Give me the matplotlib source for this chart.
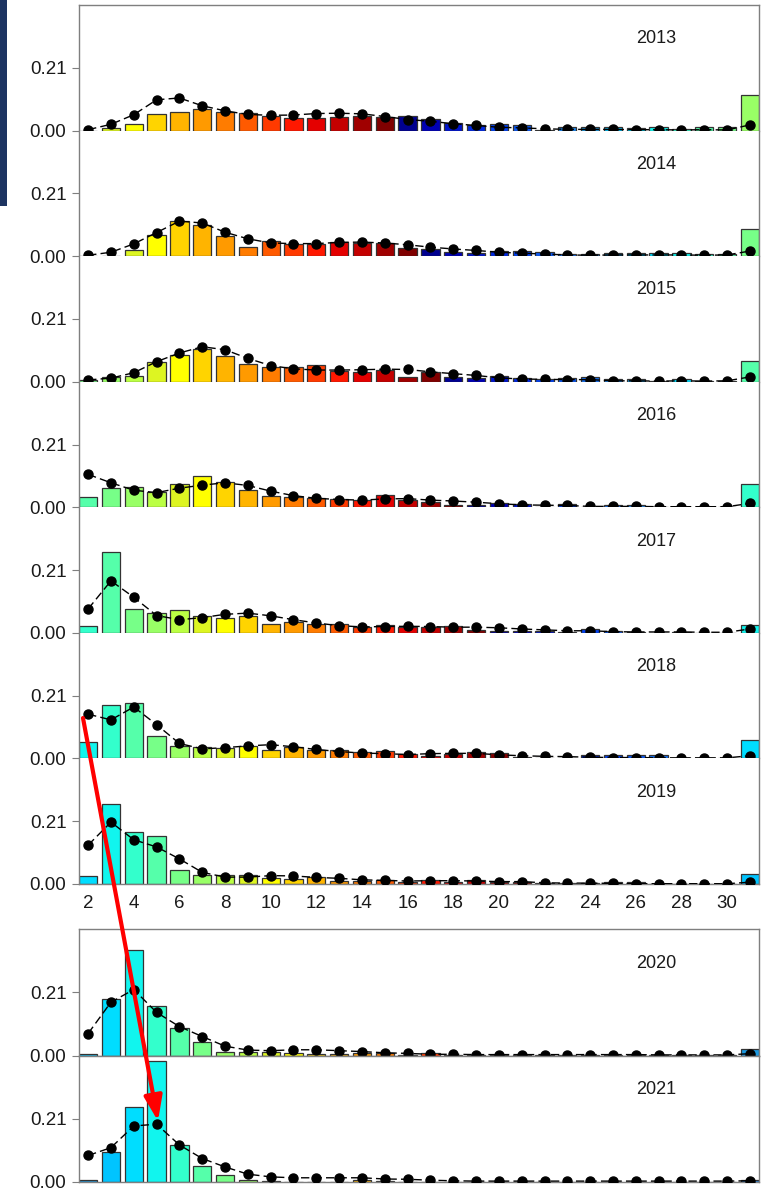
import matplotlib
matplotlib.use('Agg')
import matplotlib.pyplot as plt
from matplotlib.patches import FancyArrowPatch, Rectangle

plt.rcParams['font.family'] = ['Liberation Sans', 'DejaVu Sans']

# ages 2..31 (31 = plus group)
AGES = list(range(2, 32))

# observed proportions (bars) and fitted proportions (dots) by year
BARS_2013 = [0.000, 0.009, 0.021, 0.057, 0.061, 0.071, 0.062, 0.058, 0.050, 0.042,
             0.042, 0.047, 0.048, 0.046, 0.050, 0.038, 0.026, 0.018, 0.023, 0.018,
             0.003, 0.012, 0.012, 0.012, 0.009, 0.011, 0.004, 0.011, 0.011, 0.120]
DOTS_2013 = [0.003, 0.021, 0.053, 0.103, 0.109, 0.083, 0.066, 0.054, 0.051, 0.052,
             0.057, 0.058, 0.056, 0.047, 0.037, 0.031, 0.023, 0.017, 0.011, 0.009,
             0.006, 0.004, 0.004, 0.004, 0.003, 0.003, 0.002, 0.003, 0.002, 0.019]

BARS_2014 = [0.000, 0.001, 0.022, 0.070, 0.119, 0.103, 0.067, 0.032, 0.051, 0.039,
             0.039, 0.048, 0.043, 0.044, 0.026, 0.024, 0.013, 0.009, 0.018, 0.016,
             0.014, 0.008, 0.006, 0.011, 0.011, 0.010, 0.010, 0.006, 0.006, 0.090]
DOTS_2014 = [0.003, 0.013, 0.041, 0.079, 0.117, 0.111, 0.080, 0.058, 0.044, 0.042,
             0.042, 0.046, 0.047, 0.044, 0.038, 0.030, 0.024, 0.019, 0.013, 0.010,
             0.007, 0.004, 0.003, 0.004, 0.004, 0.004, 0.004, 0.003, 0.004, 0.017]

BARS_2015 = [0.006, 0.017, 0.020, 0.066, 0.088, 0.109, 0.087, 0.060, 0.050, 0.048,
             0.056, 0.037, 0.031, 0.040, 0.017, 0.033, 0.017, 0.013, 0.019, 0.011,
             0.010, 0.013, 0.016, 0.008, 0.009, 0.002, 0.009, 0.002, 0.002, 0.068]
DOTS_2015 = [0.006, 0.012, 0.030, 0.067, 0.096, 0.117, 0.107, 0.078, 0.054, 0.043,
             0.039, 0.039, 0.040, 0.042, 0.041, 0.033, 0.027, 0.021, 0.013, 0.009,
             0.008, 0.007, 0.007, 0.003, 0.003, 0.002, 0.003, 0.002, 0.003, 0.016]

BARS_2016 = [0.034, 0.066, 0.069, 0.050, 0.077, 0.104, 0.084, 0.058, 0.039, 0.034,
             0.031, 0.027, 0.024, 0.041, 0.026, 0.018, 0.009, 0.008, 0.014, 0.011,
             0.000, 0.012, 0.002, 0.007, 0.007, 0.002, 0.001, 0.001, 0.001, 0.078]
DOTS_2016 = [0.110, 0.082, 0.057, 0.049, 0.064, 0.074, 0.082, 0.073, 0.054, 0.039,
             0.030, 0.026, 0.024, 0.028, 0.029, 0.024, 0.021, 0.017, 0.012, 0.008,
             0.007, 0.006, 0.003, 0.003, 0.003, 0.002, 0.002, 0.002, 0.002, 0.013]

BARS_2017 = [0.024, 0.272, 0.079, 0.066, 0.077, 0.056, 0.051, 0.056, 0.031, 0.036,
             0.030, 0.029, 0.020, 0.027, 0.020, 0.018, 0.024, 0.009, 0.006, 0.006,
             0.007, 0.004, 0.013, 0.006, 0.003, 0.001, 0.002, 0.000, 0.000, 0.027]
DOTS_2017 = [0.080, 0.174, 0.119, 0.058, 0.044, 0.051, 0.062, 0.066, 0.057, 0.044,
             0.033, 0.024, 0.020, 0.021, 0.022, 0.021, 0.019, 0.019, 0.017, 0.013,
             0.010, 0.007, 0.007, 0.004, 0.003, 0.003, 0.003, 0.002, 0.002, 0.013]

BARS_2018 = [0.054, 0.178, 0.187, 0.076, 0.041, 0.037, 0.036, 0.042, 0.029, 0.037,
             0.029, 0.027, 0.023, 0.024, 0.014, 0.009, 0.014, 0.020, 0.018, 0.006,
             0.003, 0.003, 0.010, 0.011, 0.011, 0.010, 0.003, 0.002, 0.002, 0.061]
DOTS_2018 = [0.148, 0.129, 0.172, 0.113, 0.050, 0.032, 0.036, 0.042, 0.046, 0.039,
             0.030, 0.023, 0.018, 0.016, 0.013, 0.016, 0.017, 0.017, 0.012, 0.009,
             0.007, 0.006, 0.004, 0.003, 0.003, 0.002, 0.002, 0.002, 0.002, 0.009]

BARS_2019 = [0.026, 0.268, 0.174, 0.162, 0.046, 0.031, 0.030, 0.030, 0.019, 0.018,
             0.023, 0.010, 0.009, 0.012, 0.007, 0.014, 0.007, 0.014, 0.008, 0.008,
             0.003, 0.002, 0.002, 0.006, 0.007, 0.001, 0.001, 0.001, 0.001, 0.032]
DOTS_2019 = [0.130, 0.207, 0.148, 0.124, 0.084, 0.039, 0.023, 0.023, 0.028, 0.027,
             0.022, 0.019, 0.014, 0.012, 0.010, 0.011, 0.011, 0.010, 0.008, 0.008,
             0.004, 0.003, 0.003, 0.002, 0.001, 0.001, 0.001, 0.001, 0.001, 0.006]

BARS_2020 = [0.006, 0.189, 0.351, 0.166, 0.092, 0.044, 0.010, 0.011, 0.011, 0.009,
             0.006, 0.006, 0.007, 0.007, 0.002, 0.007, 0.002, 0.002, 0.002, 0.002,
             0.002, 0.002, 0.002, 0.002, 0.002, 0.001, 0.001, 0.001, 0.001, 0.022]
DOTS_2020 = [0.073, 0.177, 0.219, 0.143, 0.096, 0.063, 0.031, 0.018, 0.016, 0.019,
             0.019, 0.016, 0.013, 0.009, 0.007, 0.004, 0.004, 0.003, 0.003, 0.003,
             0.003, 0.003, 0.003, 0.003, 0.003, 0.002, 0.002, 0.002, 0.002, 0.006]

BARS_2021 = [0.008, 0.101, 0.248, 0.401, 0.124, 0.053, 0.024, 0.007, 0.003, 0.001,
             0.001, 0.001, 0.007, 0.002, 0.001, 0.001, 0.001, 0.001, 0.001, 0.001,
             0.001, 0.001, 0.001, 0.001, 0.001, 0.001, 0.001, 0.001, 0.001, 0.008]
DOTS_2021 = [0.088, 0.114, 0.186, 0.192, 0.123, 0.078, 0.050, 0.026, 0.017, 0.014,
             0.014, 0.014, 0.014, 0.010, 0.009, 0.006, 0.004, 0.003, 0.003, 0.003,
             0.003, 0.003, 0.003, 0.003, 0.003, 0.003, 0.003, 0.003, 0.003, 0.004]

YEARS = [2013, 2014, 2015, 2016, 2017, 2018, 2019, 2020, 2021]
BARS = [BARS_2013, BARS_2014, BARS_2015, BARS_2016, BARS_2017, BARS_2018,
        BARS_2019, BARS_2020, BARS_2021]
DOTS = [DOTS_2013, DOTS_2014, DOTS_2015, DOTS_2016, DOTS_2017, DOTS_2018,
        DOTS_2019, DOTS_2020, DOTS_2021]

# cohort colours, cycling every 30 year classes (first entry = cohort 1990)
COHORT_START = 1990
COHORT_COLORS = ['#1e88f0', '#1470f5', '#0a58f5', '#0040f0', '#0028e0', '#0014cc',
                 '#0000b4', '#000090', '#800000', '#a00000', '#c40000', '#e40000',
                 '#ff1800', '#ff3a00', '#ff5a00', '#ff7c00', '#ff9a00', '#ffb400',
                 '#ffd400', '#ffff00', '#ddf522', '#bbff44', '#99ff66', '#77ff88',
                 '#55ffaa', '#33ffcc', '#11f5ee', '#00ddff', '#00c4ff', '#1a98e0']

W, H = 778, 1189
SPINE = '#7f7f7f'
FS = 13.5


def cohort_color(year, age):
    idx = (year - age - COHORT_START) % len(COHORT_COLORS)
    return COHORT_COLORS[idx]


def px_axes(fig, left, top, right, bottom):
    return fig.add_axes([left / W, 1 - bottom / H, (right - left) / W, (bottom - top) / H])


def draw_panel(ax, year, bars, dots):
    colors = [cohort_color(year, a) for a in AGES]
    ax.bar(AGES, bars, width=0.8, color=colors, edgecolor='#333333', linewidth=0.9, zorder=2)
    ax.plot(AGES, dots, color='black', linestyle=(0, (6, 3)), linewidth=1.0,
            marker='o', markersize=6.5, zorder=3)
    ax.set_xlim(1.6, 31.4)
    ax.set_ylim(0, 0.42)
    ax.set_yticks([0.0, 0.21])
    ax.set_yticklabels(['0.00', '0.21'])
    ax.set_xticks(range(2, 31, 2))
    ax.tick_params(axis='y', direction='out', length=5, width=0.8, color=SPINE,
                   labelsize=FS, pad=4, labelcolor='#1a1a1a')
    ax.tick_params(axis='x', length=0, labelsize=FS, pad=8, labelbottom=False,
                   labelcolor='#1a1a1a')
    for sp in ax.spines.values():
        sp.set_color(SPINE)
        sp.set_linewidth(1.0)
    ax.text(26.9, 0.307, str(year), ha='center', va='center', fontsize=13,
            color='#1a1a1a')


fig = plt.figure(figsize=(W / 100, H / 100), dpi=100)
fig.patch.set_facecolor('white')

# upper block: 2013-2019 stacked without separators
top_step = (884 - 5) / 7
for i in range(7):
    t = 5 + i * top_step
    ax = px_axes(fig, 79, t, 759, t + top_step)
    draw_panel(ax, YEARS[i], BARS[i], DOTS[i])
    if i > 0:
        ax.spines['top'].set_visible(False)
    if i < 6:
        ax.spines['bottom'].set_visible(False)
    else:
        ax.tick_params(axis='x', labelbottom=True)

# lower block: 2020-2021, each with its own frame
bot_step = (1182 - 929) / 2
for j in range(2):
    t = 929 + j * bot_step
    ax = px_axes(fig, 79, t, 759, t + bot_step)
    draw_panel(ax, YEARS[7 + j], BARS[7 + j], DOTS[7 + j])

# dark strip on the left edge
fig.add_artist(Rectangle((0, 1 - 206 / H), 7 / W, 206 / H, transform=fig.transFigure,
                         facecolor='#1d3461', edgecolor='none'))

# red arrow from 2018 age-2 to 2021 age-5
arrow = FancyArrowPatch((83 / W, 1 - 718 / H), (158 / W, 1 - 1121 / H),
                        transform=fig.transFigure,
                        arrowstyle='-|>,head_length=0.6,head_width=0.22',
                        mutation_scale=25, color='#ff0000', linewidth=3.0,
                        shrinkA=0, shrinkB=0, zorder=10)
fig.add_artist(arrow)

fig.savefig('out.png', dpi=100)
